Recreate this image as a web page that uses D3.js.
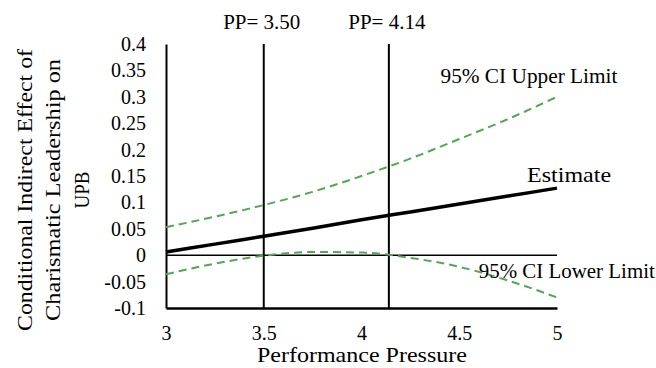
<!DOCTYPE html>
<html>
<head>
<meta charset="utf-8">
<script src="https://cdn.jsdelivr.net/npm/d3@7"></script>
<style>
  body { margin: 0; background: #fff; }
  svg { display: block; font-family: "Liberation Serif", "Times New Roman", serif; }
</style>
</head>
<body>
<svg id="chart" width="656" height="368"></svg>
<script>
// Conditional indirect effect across performance pressure, with 95% CI bands
const PP = [3, 3.25, 3.5, 3.75, 4, 4.25, 4.5, 4.75, 5];
const ESTIMATE = [0.006, 0.021, 0.036, 0.051, 0.067, 0.082, 0.097, 0.112, 0.127];
const CI_UPPER = [0.053, 0.073, 0.095, 0.12, 0.15, 0.183, 0.22, 0.258, 0.30];
const CI_LOWER = [-0.036, -0.016, -0.001, 0.006, 0.005, -0.005, -0.022, -0.048, -0.08];
const MARKERS = [3.5, 4.14];
const MARKER_LABELS = ["PP= 3.50", "PP= 4.14"];
const X_TICKS = [3, 3.5, 4, 4.5, 5];
const Y_TICKS = [-0.1, -0.05, 0, 0.05, 0.1, 0.15, 0.2, 0.25, 0.3, 0.35, 0.4];

const svg = d3.select("#chart");
const margin = { top: 44, left: 166 };
const iw = 391, ih = 264;
const g = svg.append("g").attr("transform", `translate(${margin.left},${margin.top})`);

const x = d3.scaleLinear().domain([3, 5]).range([0, iw]);
const y = d3.scaleLinear().domain([-0.1, 0.4]).range([ih, 0]);
const green = "#52a852";

// y axis
const yAxis = g.append("g")
    .call(d3.axisLeft(y).tickValues(Y_TICKS).tickSize(0).tickPadding(20)
        .tickFormat(d => String(+d.toFixed(2))));
yAxis.select(".domain").attr("stroke", "#000").attr("stroke-width", 2);
yAxis.selectAll("text").attr("font-size", 20).attr("fill", "#000")
    .attr("font-family", "Liberation Serif, serif");

// x axis at bottom (-0.1)
const xAxis = g.append("g").attr("transform", `translate(0,${ih})`)
    .call(d3.axisBottom(x).tickValues(X_TICKS).tickSize(0).tickPadding(18)
        .tickFormat(d => String(d)));
xAxis.select(".domain").attr("stroke", "#000").attr("stroke-width", 2.5);
xAxis.selectAll("text").attr("font-size", 20).attr("fill", "#000")
    .attr("font-family", "Liberation Serif, serif");

// zero line
g.append("line")
    .attr("x1", x(3)).attr("x2", x(5))
    .attr("y1", y(0)).attr("y2", y(0))
    .attr("stroke", "#000").attr("stroke-width", 1.5);

// Johnson-Neyman markers
g.selectAll("line.marker").data(MARKERS).join("line").attr("class", "marker")
    .attr("x1", d => x(d)).attr("x2", d => x(d))
    .attr("y1", 0).attr("y2", ih)
    .attr("stroke", "#000").attr("stroke-width", 2);

g.selectAll("text.marker").data(MARKERS).join("text").attr("class", "marker")
    .attr("x", d => x(d) - 2).attr("y", -15)
    .attr("text-anchor", "middle").attr("font-size", 21)
    .text((d, i) => MARKER_LABELS[i]);

const line = d3.line().x((d, i) => x(PP[i])).y(d => y(d)).curve(d3.curveMonotoneX);

g.append("path").datum(CI_UPPER).attr("d", line)
    .attr("fill", "none").attr("stroke", green).attr("stroke-width", 2)
    .attr("stroke-dasharray", "8,5");
g.append("path").datum(CI_LOWER).attr("d", line)
    .attr("fill", "none").attr("stroke", green).attr("stroke-width", 2)
    .attr("stroke-dasharray", "8,5");
g.append("path").datum(ESTIMATE).attr("d", line)
    .attr("fill", "none").attr("stroke", "#000").attr("stroke-width", 3.5);

// series labels (widths fitted to the original's Palatino-like type)
const labels = [
    { text: "95% CI Upper Limit", x: 4.404, y: 0.327, len: 177 },
    { text: "Estimate", x: 4.847, y: 0.138, len: 84 },
    { text: "95% CI Lower Limit", x: 4.6, y: -0.044, len: 176 }
];
g.selectAll("text.series").data(labels).join("text").attr("class", "series")
    .attr("x", d => x(d.x)).attr("y", d => y(d.y))
    .attr("font-size", 21)
    .attr("textLength", d => d.len).attr("lengthAdjust", "spacingAndGlyphs")
    .text(d => d.text);

// axis titles
g.append("text")
    .attr("x", x(3.465)).attr("y", ih + 54)
    .attr("font-size", 21)
    .attr("textLength", 210).attr("lengthAdjust", "spacingAndGlyphs")
    .text("Performance Pressure");

const yTitle = [
    { text: "Conditional Indirect Effect of", len: 282, dy: 0 },
    { text: "Charismatic Leadership on", len: 262, dy: 28 },
    { text: "UPB", len: 37, dy: 57 }
];
g.append("g")
    .attr("transform", `translate(${-margin.left + 32},${146}) rotate(-90)`)
    .selectAll("text").data(yTitle).join("text")
    .attr("x", d => -d.len / 2).attr("y", d => d.dy)
    .attr("font-size", 21)
    .attr("textLength", d => d.len).attr("lengthAdjust", "spacingAndGlyphs")
    .text(d => d.text);
</script>
</body>
</html>
